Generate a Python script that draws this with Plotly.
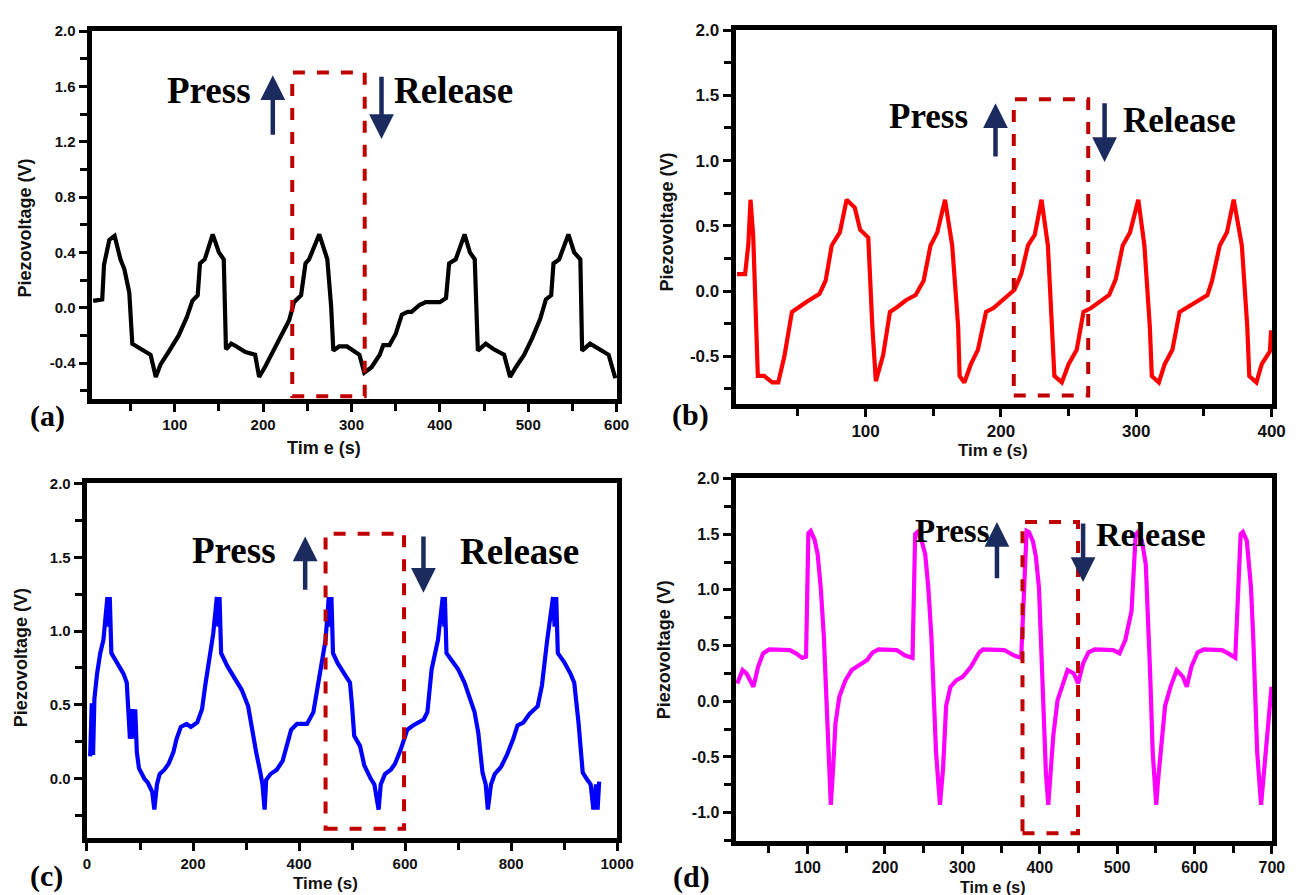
import plotly.graph_objects as go

# ---------------- data ----------------
# (a) black trace
a_time = [7.7, 18, 20, 26, 32, 38.6, 43, 48.6, 52, 59, 72.7, 78.6, 84, 93, 104.5, 113.6, 120, 126,
          128.6, 134, 143, 150, 155.5, 158, 164, 170, 180, 191, 195.5, 202, 211, 220, 229.5, 235,
          243, 248, 252, 263.6, 272.7, 277, 279.5, 286, 295, 309, 314.5, 322.7, 332, 336, 343, 350,
          357, 363.6, 368, 377, 384, 400, 407, 410.5, 418, 428, 434, 439.5, 443, 452, 461, 472.7,
          479.5, 486, 495.5, 504.5, 513.6, 520, 526, 528.6, 535, 545.5, 552, 559, 561, 570, 579.5,
          591, 598.6]
a_volt = [0.05, 0.06, 0.31, 0.49, 0.52, 0.35, 0.28, 0.11, -0.26, -0.29, -0.34, -0.50, -0.41, -0.32,
          -0.20, -0.07, 0.05, 0.09, 0.32, 0.35, 0.53, 0.40, 0.35, -0.30, -0.26, -0.28, -0.32, -0.34,
          -0.50, -0.43, -0.32, -0.20, -0.09, 0.04, 0.09, 0.32, 0.35, 0.53, 0.35, 0.01, -0.31, -0.28,
          -0.28, -0.34, -0.47, -0.43, -0.34, -0.27, -0.27, -0.19, -0.05, -0.03, -0.03, 0.02, 0.04,
          0.04, 0.07, 0.32, 0.35, 0.53, 0.40, 0.35, -0.31, -0.26, -0.30, -0.34, -0.50, -0.43, -0.34,
          -0.22, -0.08, 0.06, 0.09, 0.32, 0.35, 0.53, 0.40, 0.35, -0.31, -0.26, -0.30, -0.34, -0.51]

# (b) red trace
b_time = [5, 11, 13.4, 15, 17, 19, 20.4, 25, 31, 35.5, 40, 45.6, 50.8, 56.8, 66, 70.5, 75, 81, 86,
          92, 96, 102, 105, 107.6, 113, 118, 123.7, 129.8, 137, 142.9, 148, 153, 158.7, 164, 168.4,
          169.5, 173, 177.8, 183, 189, 194.5, 210, 215, 220, 225, 230, 234.7, 237.7, 239.5, 245, 250,
          256, 261, 266.6, 274, 280, 284.8, 290, 295.4, 301.5, 306, 310, 311.5, 316.7, 321, 326.7,
          332, 337, 345.6, 352.6, 356, 361.7, 367, 372, 378, 382, 383.5, 388.8, 392.7, 398.8, 399.6]
b_volt = [0.13, 0.13, 0.36, 0.70, 0.42, -0.10, -0.65, -0.65, -0.70, -0.70, -0.50, -0.16, -0.12, -0.08,
          -0.02, 0.08, 0.35, 0.45, 0.70, 0.64, 0.47, 0.41, -0.27, -0.69, -0.49, -0.16, -0.12, -0.07,
          -0.03, 0.08, 0.35, 0.45, 0.70, 0.35, -0.27, -0.65, -0.70, -0.56, -0.45, -0.16, -0.13, 0.01,
          0.13, 0.35, 0.43, 0.70, 0.35, -0.27, -0.65, -0.70, -0.56, -0.45, -0.16, -0.13, -0.08, -0.03,
          0.09, 0.35, 0.45, 0.70, 0.35, -0.27, -0.65, -0.70, -0.56, -0.45, -0.16, -0.13, -0.07, -0.03,
          0.08, 0.35, 0.45, 0.70, 0.35, -0.27, -0.65, -0.70, -0.56, -0.46, -0.30]

# (c) blue trace
c_time = [6, 9, 11.5, 14, 19, 25, 31, 36, 38.5, 41, 43, 46, 58, 69, 75, 78.5, 81, 85, 88, 91, 94, 98,
          108, 115, 123, 127, 132, 137, 146, 154, 163, 169, 177, 188, 196, 208, 217, 223, 231, 238,
          245, 248, 250, 253, 265, 281, 292, 304, 311, 319, 327, 331, 335, 338, 346, 358, 369, 379,
          385, 396, 415, 427, 435, 442, 450, 456, 459, 461, 464, 473, 485, 496, 500, 504, 515, 523,
          535, 542, 550, 554, 562, 573, 581, 592, 604, 615, 635, 642, 650, 662, 671, 674, 675, 678,
          688, 700, 712, 719, 731, 738, 742, 746, 752, 756, 762, 769, 781, 792, 804, 812, 823, 835,
          850, 858, 868, 879, 882, 885, 888, 900, 912, 919, 927, 935, 942, 950, 955, 960, 963, 966]
c_volt = [0.15, 0.51, 0.16, 0.54, 0.71, 0.85, 0.94, 1.10, 1.23, 1.03, 1.23, 0.85, 0.78, 0.71, 0.65,
          0.42, 0.27, 0.47, 0.27, 0.47, 0.18, 0.07, 0.00, -0.03, -0.09, -0.21, -0.04, 0.03, 0.06, 0.10,
          0.18, 0.27, 0.35, 0.37, 0.35, 0.38, 0.47, 0.63, 0.80, 0.98, 1.23, 1.03, 1.23, 0.85, 0.76,
          0.67, 0.60, 0.49, 0.33, 0.18, 0.04, -0.04, -0.21, -0.01, 0.03, 0.06, 0.12, 0.25, 0.33, 0.37,
          0.37, 0.45, 0.63, 0.76, 0.94, 1.23, 1.03, 1.23, 0.85, 0.78, 0.71, 0.65, 0.49, 0.29, 0.22,
          0.09, 0.00, -0.04, -0.21, -0.04, 0.03, 0.06, 0.10, 0.20, 0.33, 0.36, 0.40, 0.45, 0.74, 0.94,
          1.23, 1.03, 1.23, 0.85, 0.80, 0.74, 0.65, 0.58, 0.45, 0.31, 0.20, 0.04, -0.04, -0.21, -0.04,
          0.03, 0.08, 0.16, 0.27, 0.36, 0.38, 0.44, 0.49, 0.63, 0.94, 1.23, 1.03, 1.23, 0.85, 0.79,
          0.71, 0.65, 0.38, 0.04, 0.00, -0.04, -0.21, -0.04, -0.21, -0.02]

# (d) magenta trace
d_time = [9, 16, 21, 25, 30, 36, 42.5, 50.5, 77, 85, 93, 98,
          101, 104, 109, 113, 117, 121, 124, 128, 130, 133, 136, 141, 149, 157, 167.5, 177, 183.5,
          191.5, 215, 226, 235.6,
          239, 242, 247, 252, 256, 260, 263, 266, 271, 275, 279, 284.6, 292.5, 300.5, 311, 322, 327,
          354, 367, 376,
          383, 386, 391, 395, 399, 402, 405, 408, 411, 414, 417.5, 423, 429, 436, 444, 449.5, 456,
          463, 471, 495, 503, 510.6, 518.6,
          524, 527, 532, 537, 540, 542.5, 546, 550.5, 553, 556, 562, 569, 577, 585, 590, 596, 604,
          612, 635.6, 643.6, 652.7,
          659.6, 662.5, 667.6, 673, 676, 678, 681, 686, 689, 691.5, 695, 699.5]
d_volt = [0.16, 0.28, 0.25, 0.20, 0.13, 0.31, 0.43, 0.465, 0.46, 0.43, 0.39, 0.40,
          1.51, 1.53, 1.45, 1.32, 1.02, 0.58, -0.01, -0.61, -0.93, -0.60, -0.20, 0.04, 0.19, 0.28,
          0.33, 0.37, 0.435, 0.465, 0.46, 0.41, 0.39,
          1.50, 1.52, 1.45, 1.32, 1.02, 0.58, 0.13, -0.46, -0.93, -0.61, -0.04, 0.13, 0.19, 0.22,
          0.31, 0.44, 0.465, 0.46, 0.41, 0.39,
          1.53, 1.52, 1.44, 1.30, 1.02, 0.50, -0.20, -0.65, -0.93, -0.61, -0.31, 0.01, 0.13, 0.28,
          0.25, 0.16, 0.34, 0.44, 0.465, 0.46, 0.43, 0.55, 0.81,
          1.50, 1.52, 1.44, 1.23, 0.80, 0.28, -0.46, -0.93, -0.70, -0.46, -0.04, 0.13, 0.28, 0.22,
          0.13, 0.31, 0.44, 0.465, 0.46, 0.43, 0.39,
          1.50, 1.52, 1.44, 1.02, 0.55, 0.13, -0.46, -0.93, -0.70, -0.46, -0.16, 0.13]

# tick values / labels
a_xticks = [100, 200, 300, 400, 500, 600]
a_yticks = [-0.4, 0.0, 0.4, 0.8, 1.2, 1.6, 2.0]
a_ylabels = ["-0.4", "0.0", "0.4", "0.8", "1.2", "1.6", "2.0"]
b_xticks = [100, 200, 300, 400]
b_yticks = [-0.5, 0.0, 0.5, 1.0, 1.5, 2.0]
b_ylabels = ["-0.5", "0.0", "0.5", "1.0", "1.5", "2.0"]
c_xticks = [0, 200, 400, 600, 800, 1000]
c_yticks = [0.0, 0.5, 1.0, 1.5, 2.0]
c_ylabels = ["0.0", "0.5", "1.0", "1.5", "2.0"]
d_xticks = [100, 200, 300, 400, 500, 600, 700]
d_yticks = [-1.0, -0.5, 0.0, 0.5, 1.0, 1.5, 2.0]
d_ylabels = ["-1.0", "-0.5", "0.0", "0.5", "1.0", "1.5", "2.0"]

for t, v in [(a_time, a_volt), (b_time, b_volt), (c_time, c_volt), (d_time, d_volt)]:
    assert len(t) == len(v), (len(t), len(v))

# ---------------- layout helpers ----------------
W, H = 1307, 895


def px_x(p):
    return p / W


def px_y(p):
    return 1 - p / H


def tickfont(size):
    return dict(family="Liberation Sans", size=size, color="#111111", weight="bold")


SERIF = "Liberation Serif"
ARROW = "#1b2b5e"
BOX = "#c00000"


def make_axis(domain, rng, tickvals, ticktext, minor_dtick, anchor, fsize):
    return dict(
        domain=domain, range=rng, anchor=anchor,
        tickmode="array", tickvals=tickvals, ticktext=ticktext,
        showline=True, linecolor="black", linewidth=5, mirror=True,
        ticks="outside", ticklen=8, tickwidth=3, tickcolor="black",
        showgrid=False, zeroline=False, tickfont=tickfont(fsize),
        minor=dict(dtick=minor_dtick, tick0=0, ticks="outside", ticklen=7,
                   tickwidth=3, tickcolor="black", showgrid=False),
    )


panels = {
    # name: (px left, px right, px top, px bottom)
    "a": (89, 623, 22, 394),
    "b": (743, 1288, 21, 399),
    "c": (84, 623, 479, 837),
    "d": (743, 1288, 474, 840),
}


def dom(name):
    l, r, t, b = panels[name]
    return [px_x(l), px_x(r)], [px_y(b), px_y(t)]


fig = go.Figure()

series = [
    ("a", a_time, a_volt, "#000000", "x", "y"),
    ("b", b_time, b_volt, "#ff0000", "x2", "y2"),
    ("c", c_time, c_volt, "#0000ff", "x3", "y3"),
    ("d", d_time, d_volt, "#ff00ff", "x4", "y4"),
]
for name, t, v, col, xa, ya in series:
    fig.add_trace(go.Scatter(x=t, y=v, mode="lines", line=dict(color=col, width=4.2),
                             xaxis=xa, yaxis=ya, showlegend=False, hoverinfo="skip"))

xd, yd = dom("a")
fig.update_layout(
    xaxis=make_axis(xd, [6, 601], a_xticks, [str(v) for v in a_xticks], 50, "y", 15),
    yaxis=make_axis(yd, [-0.66, 2.002], a_yticks, a_ylabels, 0.2, "x", 15),
)
xd, yd = dom("b")
fig.update_layout(
    xaxis2=make_axis(xd, [4, 400.5], b_xticks, [str(v) for v in b_xticks], 50, "y2", 17),
    yaxis2=make_axis(yd, [-0.865, 2.002], b_yticks, b_ylabels, 0.25, "x2", 17),
)
xd, yd = dom("c")
fig.update_layout(
    xaxis3=make_axis(xd, [-0.5, 1000.5], c_xticks, [str(v) for v in c_xticks], 100, "y3", 15),
    yaxis3=make_axis(yd, [-0.40, 2.002], c_yticks, c_ylabels, 0.25, "x3", 15),
)
xd, yd = dom("d")
fig.update_layout(
    xaxis4=make_axis(xd, [7, 700.5], d_xticks, [str(v) for v in d_xticks], 50, "y4", 16),
    yaxis4=make_axis(yd, [-1.25, 2.002], d_yticks, d_ylabels, 0.25, "x4", 16),
)

# dashed highlight boxes (x0, x1, y0, y1)
boxes = {
    "a": (233, 315, -0.64, 1.70),
    "b": (209.5, 264.5, -0.80, 1.47),
    "c": (450, 598, -0.34, 1.66),
    "d": (377.7, 449.5, -1.185, 1.61),
}
# press / release arrows: (x, y_tail, y_tip)
press_arrows = {
    "a": (211, 1.24, 1.68),
    "b": (196, 1.02, 1.44),
    "c": (411.5, 1.27, 1.64),
    "d": (344.7, 1.09, 1.61),
}
release_arrows = {
    "a": (334, 1.68, 1.22),
    "b": (276.6, 1.45, 0.99),
    "c": (634.6, 1.65, 1.26),
    "d": (456, 1.61, 1.07),
}
# text anchors (x, y, size)
press_text = {
    "a": (139, 1.57, 37),
    "b": (146.5, 1.34, 35),
    "c": (278, 1.545, 37),
    "d": (287, 1.53, 33),
}
release_text = {
    "a": (415, 1.57, 37),
    "b": (332, 1.31, 35),
    "c": (815, 1.54, 37),
    "d": (544, 1.50, 34),
}
refs = {"a": ("x", "y"), "b": ("x2", "y2"), "c": ("x3", "y3"), "d": ("x4", "y4")}

shapes = []
annotations = []
for name, (xr, yr) in refs.items():
    x0, x1, y0, y1 = boxes[name]
    shapes.append(dict(type="rect", xref=xr, yref=yr, x0=x0, x1=x1, y0=y0, y1=y1,
                       line=dict(color=BOX, width=4, dash="dash"), layer="above"))
    for (ax_x, y_tail, y_tip) in (press_arrows[name], release_arrows[name]):
        annotations.append(dict(x=ax_x, y=y_tip, ax=ax_x, ay=y_tail, xref=xr, yref=yr,
                                axref=xr, ayref=yr, text="", showarrow=True,
                                arrowhead=2, arrowsize=1.1, arrowwidth=4.5, arrowcolor=ARROW))
    px_, py_, ps = press_text[name]
    annotations.append(dict(x=px_, y=py_, xref=xr, yref=yr, text="Press", showarrow=False,
                            font=dict(family=SERIF, size=ps, color="black", weight="bold")))
    rx_, ry_, rs = release_text[name]
    annotations.append(dict(x=rx_, y=ry_, xref=xr, yref=yr, text="Release", showarrow=False,
                            font=dict(family=SERIF, size=rs, color="black", weight="bold")))

# panel letters and axis titles (pixel positions, font size)
letters = {"a": (44, 411), "b": (697, 410), "c": (43, 876), "d": (698, 877)}
xtitles = {"a": ("Tim e (s)", 325, 443, 18), "b": ("Tim e (s)", 1004, 446, 17),
           "c": ("Time (s)", 326, 883, 17), "d": ("Tim e (s)", 1004, 887, 16)}
ytitles = {"a": (21, 221), "b": (673, 215), "c": (18, 655), "d": (671, 647)}

for name in refs:
    lx, ly = letters[name]
    annotations.append(dict(x=px_x(lx), y=px_y(ly), xref="paper", yref="paper",
                            text=f"({name})", showarrow=False, xanchor="center", yanchor="middle",
                            font=dict(family=SERIF, size=30, color="black", weight="bold")))
    txt, tx, ty, ts = xtitles[name]
    annotations.append(dict(x=px_x(tx), y=px_y(ty), xref="paper", yref="paper",
                            text=txt, showarrow=False, xanchor="center", yanchor="middle",
                            font=dict(family="Liberation Sans", size=ts, color="#111111",
                                      weight="bold")))
    yx, yy = ytitles[name]
    annotations.append(dict(x=px_x(yx), y=px_y(yy), xref="paper", yref="paper",
                            text="Piezovoltage (V)", showarrow=False, textangle=-90,
                            xanchor="center", yanchor="middle",
                            font=dict(family="Liberation Sans", size=18, color="#111111",
                                      weight="bold")))

fig.update_layout(
    width=W, height=H, margin=dict(l=0, r=0, t=0, b=0),
    paper_bgcolor="white", plot_bgcolor="white",
    shapes=shapes, annotations=annotations, showlegend=False,
)

fig.write_html("out.html", config={"displayModeBar": False})
